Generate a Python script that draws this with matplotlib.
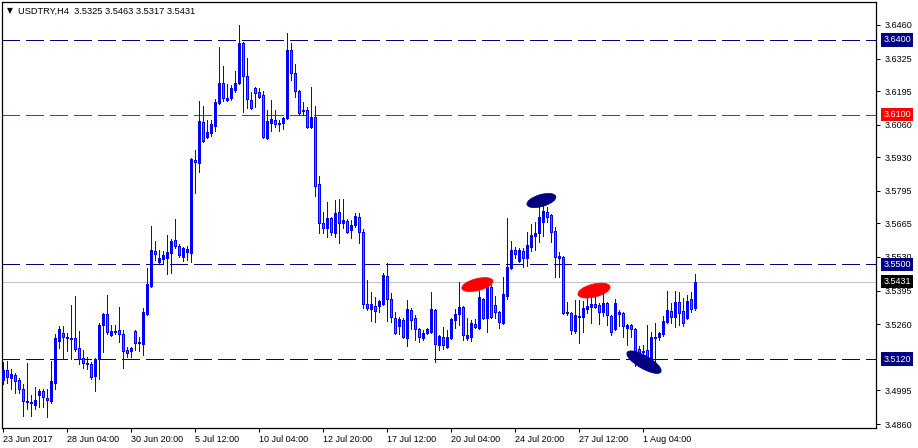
import matplotlib
matplotlib.use('Agg')
import matplotlib.pyplot as plt
import matplotlib.transforms as mtransforms
from matplotlib.patches import Ellipse
import numpy as np

plt.rcParams['font.family'] = ['Liberation Sans', 'DejaVu Sans']
plt.rcParams['lines.scale_dashes'] = False

symbol = "USDTRY,H4"

opens = [3.5036, 3.5076, 3.5044, 3.5056, 3.5036, 3.5000, 3.4952, 3.4948, 3.4936, 3.4976,
         3.4992, 3.4964, 3.4952, 3.5024, 3.5193, 3.5225, 3.5209, 3.5205, 3.5205, 3.5165,
         3.5124, 3.5104, 3.5100, 3.5052, 3.5120, 3.5257, 3.5301, 3.5217, 3.5229, 3.5237,
         3.5221, 3.5156, 3.5152, 3.5233, 3.5189, 3.5181, 3.5301, 3.5413, 3.5553, 3.5509,
         3.5521, 3.5525, 3.5545, 3.5598, 3.5574, 3.5529, 3.5549, 3.5545, 3.5918, 3.5906,
         3.6071, 3.6011, 3.6027, 3.6055, 3.6147, 3.6227, 3.6159, 3.6167, 3.6199, 3.6227,
         3.6388, 3.6255, 3.6159, 3.6207, 3.6191, 3.6179, 3.6007, 3.6067, 3.6079, 3.6067,
         3.6067, 3.6087, 3.6360, 3.6267, 3.6195, 3.6119, 3.6119, 3.6051, 3.6091, 3.5822,
         3.5666, 3.5646, 3.5686, 3.5626, 3.5710, 3.5666, 3.5674, 3.5638, 3.5658, 3.5690,
         3.5630, 3.5341, 3.5321, 3.5333, 3.5333, 3.5341, 3.5453, 3.5361, 3.5285, 3.5253,
         3.5277, 3.5205, 3.5317, 3.5285, 3.5241, 3.5205, 3.5225, 3.5229, 3.5317, 3.5177,
         3.5209, 3.5169, 3.5205, 3.5277, 3.5301, 3.5329, 3.5205, 3.5209, 3.5261, 3.5245,
         3.5361, 3.5285, 3.5409, 3.5337, 3.5309, 3.5265, 3.5373, 3.5485, 3.5558, 3.5513,
         3.5553, 3.5525, 3.5570, 3.5614, 3.5626, 3.5670, 3.5710, 3.5698, 3.5634, 3.5525,
         3.5529, 3.5309, 3.5305, 3.5233, 3.5293, 3.5289, 3.5321, 3.5329, 3.5341, 3.5337,
         3.5309, 3.5345, 3.5293, 3.5241, 3.5301, 3.5305, 3.5245, 3.5257, 3.5241, 3.5161,
         3.5152, 3.5156, 3.5116, 3.5209, 3.5209, 3.5221, 3.5269, 3.5313, 3.5289, 3.5349,
         3.5313, 3.5285, 3.5361, 3.5325]
highs = [3.5108, 3.5112, 3.5080, 3.5064, 3.5044, 3.5020, 3.5104, 3.4976, 3.5008, 3.5000,
         3.5000, 3.5000, 3.5112, 3.5221, 3.5253, 3.5253, 3.5225, 3.5337, 3.5373, 3.5233,
         3.5156, 3.5128, 3.5108, 3.5124, 3.5265, 3.5305, 3.5377, 3.5257, 3.5257, 3.5329,
         3.5237, 3.5169, 3.5169, 3.5235, 3.5209, 3.5325, 3.5485, 3.5654, 3.5594, 3.5558,
         3.5553, 3.5618, 3.5602, 3.5682, 3.5582, 3.5570, 3.5574, 3.5926, 3.5958, 3.6155,
         3.6135, 3.6079, 3.6079, 3.6163, 3.6372, 3.6295, 3.6223, 3.6219, 3.6275, 3.6460,
         3.6392, 3.6327, 3.6191, 3.6211, 3.6207, 3.6195, 3.6119, 3.6159, 3.6119, 3.6079,
         3.6091, 3.6428, 3.6388, 3.6303, 3.6199, 3.6151, 3.6131, 3.6211, 3.6135, 3.5854,
         3.5710, 3.5750, 3.5690, 3.5758, 3.5762, 3.5762, 3.5682, 3.5678, 3.5706, 3.5706,
         3.5642, 3.5437, 3.5389, 3.5369, 3.5357, 3.5465, 3.5505, 3.5385, 3.5309, 3.5289,
         3.5285, 3.5357, 3.5325, 3.5297, 3.5245, 3.5237, 3.5245, 3.5389, 3.5321, 3.5217,
         3.5249, 3.5237, 3.5285, 3.5321, 3.5429, 3.5333, 3.5285, 3.5277, 3.5281, 3.5393,
         3.5365, 3.5413, 3.5417, 3.5373, 3.5313, 3.5449, 3.5686, 3.5594, 3.5570, 3.5566,
         3.5566, 3.5630, 3.5662, 3.5670, 3.5738, 3.5746, 3.5730, 3.5702, 3.5650, 3.5549,
         3.5533, 3.5349, 3.5309, 3.5357, 3.5357, 3.5353, 3.5365, 3.5393, 3.5369, 3.5345,
         3.5389, 3.5349, 3.5297, 3.5361, 3.5317, 3.5309, 3.5261, 3.5261, 3.5245, 3.5173,
         3.5177, 3.5257, 3.5229, 3.5265, 3.5229, 3.5293, 3.5393, 3.5345, 3.5393, 3.5389,
         3.5365, 3.5377, 3.5389, 3.5463]
lows = [3.5020, 3.5024, 3.5000, 3.4984, 3.4984, 3.4892, 3.4920, 3.4892, 3.4920, 3.4928,
        3.4928, 3.4888, 3.4944, 3.5000, 3.5165, 3.5120, 3.5152, 3.5120, 3.5152, 3.5100,
        3.5084, 3.5080, 3.5040, 3.4992, 3.5040, 3.5148, 3.5221, 3.5213, 3.5221, 3.5189,
        3.5084, 3.5128, 3.5128, 3.5156, 3.5152, 3.5136, 3.5297, 3.5409, 3.5517, 3.5505,
        3.5505, 3.5461, 3.5465, 3.5566, 3.5529, 3.5513, 3.5517, 3.5509, 3.5786, 3.5870,
        3.5991, 3.6007, 3.6015, 3.6035, 3.6143, 3.6155, 3.6155, 3.6159, 3.6191, 3.6223,
        3.6111, 3.6127, 3.6123, 3.6131, 3.6167, 3.6007, 3.6003, 3.6035, 3.6051, 3.6035,
        3.6043, 3.6083, 3.6239, 3.6171, 3.6099, 3.6099, 3.6047, 3.6047, 3.5774, 3.5626,
        3.5626, 3.5610, 3.5618, 3.5610, 3.5586, 3.5646, 3.5626, 3.5606, 3.5650, 3.5586,
        3.5325, 3.5317, 3.5273, 3.5269, 3.5309, 3.5337, 3.5273, 3.5269, 3.5221, 3.5221,
        3.5205, 3.5173, 3.5241, 3.5197, 3.5189, 3.5197, 3.5221, 3.5225, 3.5108, 3.5156,
        3.5161, 3.5165, 3.5201, 3.5245, 3.5257, 3.5197, 3.5197, 3.5193, 3.5245, 3.5241,
        3.5281, 3.5229, 3.5285, 3.5285, 3.5245, 3.5261, 3.5361, 3.5481, 3.5525, 3.5509,
        3.5489, 3.5493, 3.5553, 3.5558, 3.5590, 3.5614, 3.5670, 3.5590, 3.5449, 3.5449,
        3.5301, 3.5297, 3.5221, 3.5225, 3.5185, 3.5229, 3.5305, 3.5265, 3.5325, 3.5261,
        3.5293, 3.5257, 3.5217, 3.5237, 3.5253, 3.5209, 3.5177, 3.5209, 3.5092, 3.5104,
        3.5116, 3.5076, 3.5108, 3.5104, 3.5197, 3.5213, 3.5265, 3.5265, 3.5249, 3.5257,
        3.5253, 3.5281, 3.5309, 3.5317]
closes = [3.5076, 3.5048, 3.5060, 3.5032, 3.5000, 3.4952, 3.4948, 3.4944, 3.4956, 3.4992,
          3.4968, 3.4956, 3.5032, 3.5205, 3.5241, 3.5209, 3.5205, 3.5201, 3.5161, 3.5120,
          3.5104, 3.5100, 3.5048, 3.5120, 3.5257, 3.5301, 3.5229, 3.5233, 3.5233, 3.5221,
          3.5152, 3.5144, 3.5165, 3.5185, 3.5185, 3.5309, 3.5421, 3.5558, 3.5541, 3.5525,
          3.5537, 3.5549, 3.5594, 3.5574, 3.5537, 3.5566, 3.5562, 3.5922, 3.5910, 3.6075,
          3.5995, 3.6031, 3.6063, 3.6151, 3.6227, 3.6167, 3.6167, 3.6207, 3.6227, 3.6388,
          3.6255, 3.6163, 3.6127, 3.6187, 3.6171, 3.6011, 3.6075, 3.6083, 3.6063, 3.6063,
          3.6087, 3.6360, 3.6267, 3.6195, 3.6107, 3.6115, 3.6051, 3.6091, 3.5814, 3.5666,
          3.5646, 3.5686, 3.5630, 3.5706, 3.5666, 3.5678, 3.5630, 3.5658, 3.5694, 3.5630,
          3.5341, 3.5325, 3.5341, 3.5313, 3.5353, 3.5457, 3.5361, 3.5289, 3.5225, 3.5281,
          3.5209, 3.5321, 3.5277, 3.5241, 3.5209, 3.5225, 3.5241, 3.5321, 3.5181, 3.5213,
          3.5177, 3.5209, 3.5281, 3.5301, 3.5329, 3.5217, 3.5217, 3.5265, 3.5249, 3.5369,
          3.5285, 3.5409, 3.5289, 3.5309, 3.5269, 3.5381, 3.5489, 3.5558, 3.5541, 3.5558,
          3.5525, 3.5578, 3.5618, 3.5626, 3.5690, 3.5714, 3.5690, 3.5630, 3.5529, 3.5533,
          3.5305, 3.5305, 3.5237, 3.5297, 3.5289, 3.5325, 3.5333, 3.5341, 3.5329, 3.5309,
          3.5345, 3.5297, 3.5229, 3.5345, 3.5309, 3.5253, 3.5257, 3.5241, 3.5140, 3.5144,
          3.5148, 3.5120, 3.5209, 3.5205, 3.5225, 3.5273, 3.5317, 3.5289, 3.5349, 3.5305,
          3.5265, 3.5353, 3.5321, 3.5431]

date_labels = ["23 Jun 2017", "28 Jun 04:00", "30 Jun 20:00", "5 Jul 12:00", "10 Jul 04:00",
               "12 Jul 20:00", "17 Jul 12:00", "20 Jul 04:00", "24 Jul 20:00", "27 Jul 12:00",
               "1 Aug 04:00"]
bars_per_label = 16

ytick_values = [3.6460, 3.6325, 3.6195, 3.6060, 3.5930, 3.5795, 3.5665, 3.5530,
                3.5395, 3.5260, 3.4995, 3.4860]

level_prices = [3.6400, 3.6100, 3.5500, 3.5120]
level_colors = ['#000080', '#FF0000', '#000080', '#000080']
bid_price = 3.5431

zone_bar = [118.6, 134.6, 147.75, 160.25]
zone_price = [3.5419, 3.5756, 3.5395, 3.5108]
zone_colors = ['#FF0000', '#000080', '#FF0000', '#000080']

W, H = 918, 448
PX = 0.72  # one pixel in points at 100 dpi
fig = plt.figure(figsize=(W / 100, H / 100), dpi=100)
ax = fig.add_axes([2 / W, 20 / H, 874 / W, 426 / H])
ax.set_xlim(-0.25, 218.25)
ax.set_ylim(3.4844, 3.6552)

o = np.array(opens); h = np.array(highs); l = np.array(lows); c = np.array(closes)
x = np.arange(len(o))
up = c >= o
body_bottom = np.minimum(o, c)
body_height = np.abs(c - o)

ax.vlines(x, l, h, color='#0000FF', lw=PX, zorder=2, antialiased=False)
ax.bar(x[up], body_height[up], bottom=body_bottom[up], width=0.5, color='#0000FF',
       edgecolor='#0000FF', lw=PX, zorder=3, antialiased=False)
ax.bar(x[~up], body_height[~up], bottom=body_bottom[~up], width=0.5, color='#FF4010',
       edgecolor='#0000FF', lw=PX, zorder=3, antialiased=False)

# level lines
for p, col in zip(level_prices, level_colors):
    ax.axhline(p, color=col, lw=PX, linestyle=(0, (18 * PX, 6 * PX)), zorder=1,
               antialiased=False)
ax.axhline(bid_price, color='#C0C0C0', lw=PX, zorder=1, antialiased=False)

# zones (ellipses)
zone_shapes = [(32, 12, 14), (30, 12, 16), (33, 13, 14), (39, 13, -30)]
for bx, py, col, (wpx, hpx, ang) in zip(zone_bar, zone_price, zone_colors, zone_shapes):
    tr = fig.dpi_scale_trans + mtransforms.ScaledTranslation(bx, py, ax.transData)
    e = Ellipse((0, 0), wpx / 100, hpx / 100, angle=ang, transform=tr,
                facecolor=col, edgecolor=col, lw=0.5, zorder=4)
    ax.add_patch(e)

# axes styling
for s in ax.spines.values():
    s.set_color('black')
    s.set_linewidth(0.9)
ax.yaxis.tick_right()
ax.set_yticks(ytick_values)
ax.set_yticklabels([f"{v:.4f}" for v in ytick_values])
ax.tick_params(axis='y', direction='out', length=3, width=0.75, pad=3,
               labelsize=6.5, colors='black')
ax.set_xticks(np.arange(len(date_labels)) * bars_per_label)
ax.set_xticklabels(date_labels)
ax.tick_params(axis='x', direction='out', length=3, width=0.75, pad=2,
               labelsize=6.5, colors='black')
for t in ax.get_xticklabels():
    t.set_horizontalalignment('left')

# price labels on the right
trans = mtransforms.blended_transform_factory(ax.transAxes, ax.transData)
for p, col in list(zip(level_prices, level_colors)) + [(bid_price, '#000000')]:
    ax.text(1.0085, p, f"{p:.4f}", transform=trans, ha='left', va='center',
            fontsize=6.5, color='white', clip_on=False, zorder=6,
            bbox=dict(boxstyle='square,pad=0.25', fc=col, ec='none'))

# header
fig.text(7 / W, 1 - 11 / H, '\u25BC', fontsize=5.5, ha='left', va='center',
         family=['DejaVu Sans'])
fig.text(18 / W, 1 - 11 / H,
         f"{symbol}  {o[-1]:.4f} {h[-1]:.4f} {l[-1]:.4f} {c[-1]:.4f}",
         fontsize=6.7, ha='left', va='center')

fig.savefig('out.png', dpi=100, facecolor='white')
